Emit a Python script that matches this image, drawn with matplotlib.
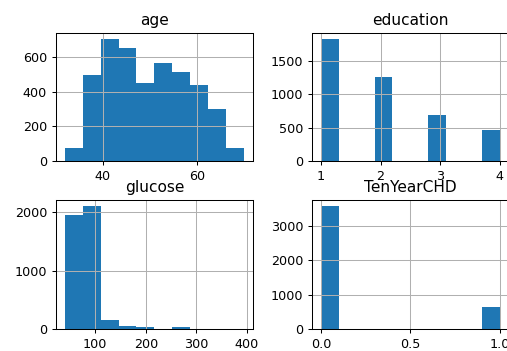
import numpy as np
import matplotlib
matplotlib.use("Agg")
import matplotlib.pyplot as plt

# Histogram data (10 bins each, as pandas DataFrame.hist draws it)
titles = ["age", "education", "glucose", "TenYearCHD"]
age_range = (32, 70)
age_counts = [74, 494, 703, 650, 448, 566, 511, 440, 301, 74]
education_range = (1, 4)
education_counts = [1825, 0, 0, 1253, 0, 0, 689, 0, 0, 473]
glucose_range = (40, 394)
glucose_counts = [1960, 2108, 152, 38, 33, 3, 32, 2, 2, 2]
chd_range = (0, 1)
chd_counts = [3594, 0, 0, 0, 0, 0, 0, 0, 0, 644]

# Tick values
age_xticks = [40, 60]
age_yticks = [0, 200, 400, 600]
education_xticks = [1, 2, 3, 4]
education_yticks = [0, 500, 1000, 1500]
glucose_xticks = [100, 200, 300, 400]
glucose_yticks = [0, 1000, 2000]
chd_xticks = [0.0, 0.5, 1.0]
chd_yticks = [0, 1000, 2000, 3000]

data = [
    (age_range, age_counts, age_xticks, age_yticks),
    (education_range, education_counts, education_xticks, education_yticks),
    (glucose_range, glucose_counts, glucose_xticks, glucose_yticks),
    (chd_range, chd_counts, chd_xticks, chd_yticks),
]

W, H = 507, 351
DPI = 92
fig = plt.figure(figsize=(W / DPI, H / DPI), dpi=DPI)

# axes boxes in pixels: (left, top, right, bottom)
boxes = [
    (56, 32.7, 252.7, 161.3),
    (312, 32.7, 508.7, 161.3),
    (56, 200, 252.7, 328.7),
    (312, 200, 508.7, 328.7),
]

for (l, t, r, b), title, (rng, counts, xt, yt) in zip(boxes, titles, data):
    ax = fig.add_axes([l / W, 1 - b / H, (r - l) / W, (b - t) / H])
    edges = np.linspace(rng[0], rng[1], len(counts) + 1)
    ax.hist(edges[:-1], bins=edges, weights=counts, color="C0")
    ax.set_xticks(xt)
    ax.set_yticks(yt)
    ax.grid(True)
    ax.set_title(title)

fig.savefig("out.png", dpi=DPI)
